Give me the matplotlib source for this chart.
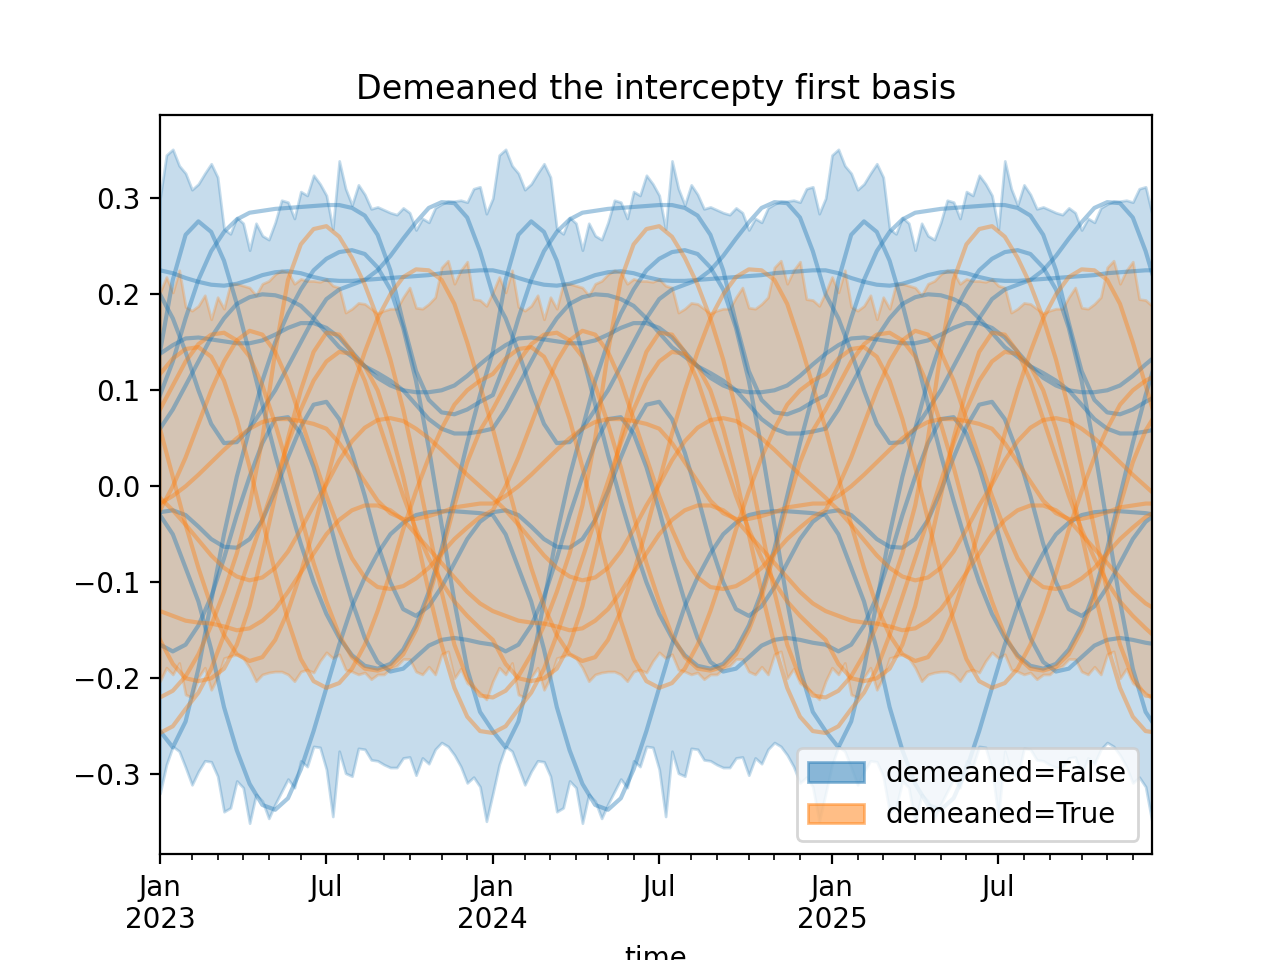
import matplotlib
matplotlib.use('Agg')

import numpy as np
import pandas as pd
import matplotlib.pyplot as plt
from matplotlib.patches import Patch

# band edges, one value per week for one year (the pattern repeats each year)
false_hi = [0.300, 0.345, 0.351, 0.334, 0.326, 0.309, 0.315, 0.326, 0.336, 0.322, 0.268, 0.263, 0.280,
            0.274, 0.246, 0.274, 0.261, 0.257, 0.275, 0.298, 0.296, 0.279, 0.307, 0.303, 0.324, 0.315,
            0.303, 0.268, 0.339, 0.310, 0.293, 0.314, 0.304, 0.289, 0.291, 0.288, 0.285, 0.283, 0.290,
            0.285, 0.267, 0.279, 0.275, 0.290, 0.294, 0.297, 0.297, 0.298, 0.296, 0.310, 0.312, 0.284]
false_lo = [-0.320, -0.290, -0.271, -0.276, -0.293, -0.311, -0.297, -0.286, -0.287, -0.302, -0.339, -0.335, -0.307,
            -0.314, -0.351, -0.321, -0.328, -0.346, -0.331, -0.318, -0.305, -0.314, -0.286, -0.292, -0.271, -0.272,
            -0.295, -0.344, -0.276, -0.299, -0.302, -0.273, -0.274, -0.285, -0.286, -0.290, -0.293, -0.293, -0.283,
            -0.282, -0.301, -0.283, -0.289, -0.274, -0.267, -0.271, -0.280, -0.292, -0.309, -0.303, -0.313, -0.349]
true_hi = [0.202, 0.218, 0.202, 0.225, 0.187, 0.183, 0.188, 0.199, 0.174, 0.197, 0.185, 0.211, 0.211,
           0.209, 0.207, 0.199, 0.211, 0.214, 0.221, 0.225, 0.223, 0.211, 0.216, 0.214, 0.214, 0.213,
           0.216, 0.209, 0.207, 0.181, 0.185, 0.191, 0.190, 0.185, 0.180, 0.183, 0.185, 0.185, 0.197,
           0.207, 0.186, 0.185, 0.190, 0.197, 0.228, 0.235, 0.211, 0.225, 0.234, 0.195, 0.194, 0.188]
true_lo = [-0.203, -0.189, -0.196, -0.184, -0.217, -0.220, -0.199, -0.189, -0.212, -0.199, -0.179, -0.177, -0.175,
           -0.179, -0.189, -0.203, -0.196, -0.194, -0.193, -0.193, -0.196, -0.203, -0.193, -0.191, -0.194, -0.182,
           -0.173, -0.179, -0.175, -0.191, -0.193, -0.196, -0.194, -0.201, -0.196, -0.196, -0.190, -0.187, -0.180,
           -0.180, -0.193, -0.196, -0.188, -0.196, -0.175, -0.172, -0.200, -0.190, -0.205, -0.210, -0.215, -0.222]

# sample curves, one value every two weeks for one year
lines_false = [
    [0.225, 0.222, 0.217, 0.213, 0.210, 0.209, 0.211, 0.215, 0.220, 0.223, 0.224, 0.222, 0.218, 0.215, 0.214, 0.214, 0.215, 0.216, 0.217, 0.218, 0.219, 0.220, 0.222, 0.223, 0.224, 0.225],
    [0.14, 0.215, 0.262, 0.276, 0.265, 0.235, 0.19, 0.138, 0.085, 0.033, -0.015, -0.06, -0.1, -0.133, -0.158, -0.176, -0.187, -0.19, -0.185, -0.17, -0.145, -0.11, -0.065, -0.01, 0.045, 0.095],
    [-0.255, -0.272, -0.245, -0.19, -0.12, -0.05, 0.01, 0.06, 0.11, 0.15, 0.18, 0.205, 0.225, 0.237, 0.244, 0.246, 0.242, 0.228, 0.205, 0.165, 0.11, 0.04, -0.04, -0.12, -0.19, -0.235],
    [-0.03, -0.05, -0.085, -0.12, -0.17, -0.23, -0.275, -0.31, -0.332, -0.337, -0.325, -0.295, -0.255, -0.21, -0.165, -0.125, -0.095, -0.07, -0.05, -0.038, -0.03, -0.027, -0.026, -0.026, -0.027, -0.028],
    [-0.027, -0.025, -0.03, -0.042, -0.055, -0.063, -0.064, -0.055, -0.035, -0.005, 0.03, 0.062, 0.085, 0.088, 0.07, 0.035, -0.01, -0.06, -0.1, -0.128, -0.135, -0.125, -0.105, -0.08, -0.055, -0.037],
    [0.20, 0.175, 0.14, 0.1, 0.065, 0.045, 0.046, 0.06, 0.08, 0.1, 0.125, 0.15, 0.175, 0.195, 0.205, 0.21, 0.215, 0.225, 0.24, 0.258, 0.275, 0.29, 0.296, 0.295, 0.28, 0.245],
    [-0.165, -0.172, -0.165, -0.145, -0.115, -0.075, -0.03, 0.01, 0.045, 0.07, 0.072, 0.055, 0.02, -0.025, -0.075, -0.12, -0.158, -0.183, -0.193, -0.19, -0.178, -0.166, -0.16, -0.158, -0.16, -0.163],
    [0.06, 0.08, 0.105, 0.13, 0.155, 0.175, 0.19, 0.197, 0.2, 0.199, 0.195, 0.188, 0.175, 0.16, 0.145, 0.135, 0.125, 0.118, 0.11, 0.1, 0.085, 0.07, 0.06, 0.055, 0.055, 0.057],
    [0.095, 0.13, 0.175, 0.215, 0.245, 0.265, 0.278, 0.285, 0.287, 0.289, 0.29, 0.291, 0.292, 0.293, 0.293, 0.29, 0.282, 0.262, 0.225, 0.17, 0.12, 0.09, 0.077, 0.075, 0.08, 0.088],
    [0.138, 0.147, 0.154, 0.155, 0.153, 0.151, 0.149, 0.149, 0.152, 0.158, 0.165, 0.17, 0.17, 0.165, 0.155, 0.14, 0.125, 0.113, 0.105, 0.1, 0.098, 0.098, 0.1, 0.105, 0.115, 0.127],
]
lines_true = [
    [-0.22, -0.213, -0.198, -0.175, -0.145, -0.11, -0.07, -0.02, 0.05, 0.14, 0.215, 0.252, 0.268, 0.271, 0.26, 0.238, 0.21, 0.175, 0.132, 0.08, 0.02, -0.045, -0.11, -0.165, -0.2, -0.218],
    [-0.257, -0.25, -0.232, -0.215, -0.19, -0.155, -0.115, -0.075, -0.035, 0.005, 0.045, 0.08, 0.11, 0.13, 0.14, 0.138, 0.125, 0.1, 0.06, 0.01, -0.05, -0.11, -0.165, -0.21, -0.24, -0.255],
    [-0.16, -0.185, -0.2, -0.203, -0.2, -0.19, -0.165, -0.125, -0.07, -0.01, 0.05, 0.1, 0.14, 0.16, 0.158, 0.14, 0.11, 0.07, 0.03, -0.01, -0.045, -0.075, -0.1, -0.12, -0.135, -0.148],
    [-0.13, -0.135, -0.14, -0.142, -0.143, -0.146, -0.15, -0.148, -0.14, -0.128, -0.11, -0.09, -0.07, -0.05, -0.035, -0.025, -0.02, -0.02, -0.025, -0.035, -0.05, -0.065, -0.08, -0.095, -0.11, -0.122],
    [-0.012, -0.025, -0.04, -0.056, -0.072, -0.085, -0.094, -0.098, -0.095, -0.085, -0.068, -0.045, -0.02, 0.002, 0.027, 0.047, 0.061, 0.069, 0.071, 0.068, 0.06, 0.05, 0.038, 0.025, 0.012, 0.0],
    [0.117, 0.133, 0.143, 0.145, 0.135, 0.11, 0.07, 0.02, -0.035, -0.09, -0.14, -0.18, -0.203, -0.21, -0.205, -0.19, -0.165, -0.13, -0.09, -0.045, -0.005, 0.03, 0.06, 0.085, 0.1, 0.11],
    [0.08, 0.105, 0.13, 0.148, 0.158, 0.16, 0.152, 0.135, 0.105, 0.065, 0.02, -0.03, -0.08, -0.12, -0.155, -0.178, -0.19, -0.192, -0.188, -0.175, -0.15, -0.115, -0.07, -0.02, 0.025, 0.058],
    [-0.025, 0.0, 0.03, 0.065, 0.1, 0.13, 0.152, 0.162, 0.158, 0.14, 0.11, 0.07, 0.03, -0.01, -0.045, -0.075, -0.095, -0.105, -0.107, -0.104, -0.096, -0.085, -0.07, -0.055, -0.043, -0.032],
    [0.06, 0.01, -0.04, -0.085, -0.125, -0.155, -0.175, -0.182, -0.178, -0.16, -0.13, -0.09, -0.045, 0.005, 0.055, 0.1, 0.14, 0.175, 0.2, 0.218, 0.226, 0.225, 0.215, 0.19, 0.15, 0.105],
    [-0.018, -0.01, 0.0, 0.012, 0.025, 0.038, 0.05, 0.06, 0.067, 0.07, 0.07, 0.068, 0.065, 0.06, 0.045, 0.025, 0.005, -0.015, -0.028, -0.034, -0.034, -0.031, -0.027, -0.022, -0.02, -0.018],
]

# weekly periods (ending on Mondays) starting at the first week of 2023
n_years = 3
start = pd.Timestamp('2023-01-02')
x_week = np.arange(52 * n_years)
x_fort = np.arange(0, 52 * n_years + 1, 2)

fig, ax = plt.subplots(figsize=(6.4, 4.8), dpi=200)

groups = [('C0', false_lo, false_hi, lines_false), ('C1', true_lo, true_hi, lines_true)]
for color, lo, hi, lines in groups:
    ax.fill_between(x_week, lo * n_years, hi * n_years, color=color, alpha=0.25)
    for ys in lines:
        ax.plot(x_fort, ys * n_years + ys[:1], color=color, alpha=0.4, lw=1.5)

handles = [Patch(facecolor='C0', edgecolor='C0', alpha=0.5, label='demeaned=False'),
           Patch(facecolor='C1', edgecolor='C1', alpha=0.5, label='demeaned=True')]
ax.legend(handles=handles, loc='lower right')

# month ticks sit on the week that holds the 1st of the month
months = pd.date_range('2023-01-01', '2025-12-01', freq='MS')
month_pos = [int(np.ceil((m - start).days / 7)) for m in months]
major = [(p, m) for p, m in zip(month_pos, months) if m.month in (1, 7)]
ax.set_xticks([p for p, m in major])
ax.set_xticklabels([m.strftime('%b\n%Y') if m.month == 1 else m.strftime('%b') for p, m in major])
ax.set_xticks([p for p, m in zip(month_pos, months) if m.month not in (1, 7)], minor=True)

ax.set_xlim(0, len(x_week) - 1)
ax.set_ylim(-0.3835, 0.3866)
ax.set_xlabel('time')
ax.set_title('Demeaned the intercepty first basis')

fig.savefig('out.png', dpi=200)
